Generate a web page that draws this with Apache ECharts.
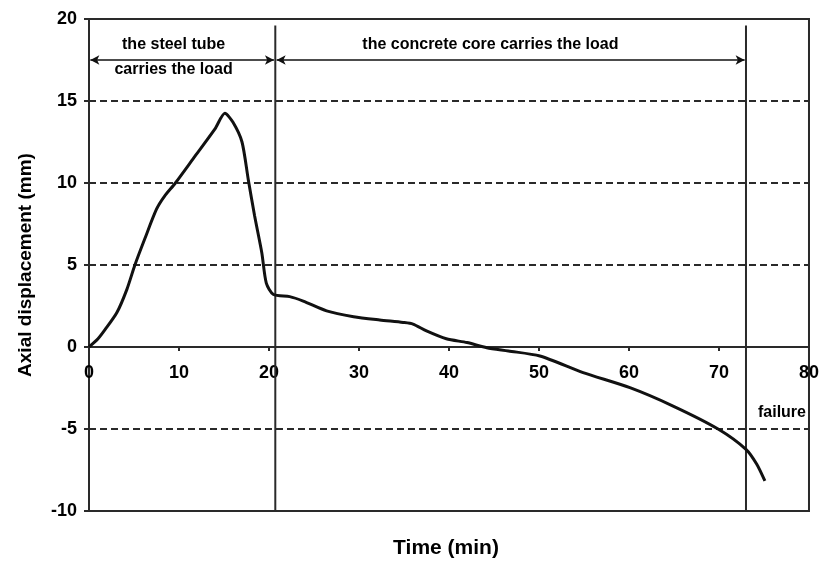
<!DOCTYPE html>
<html>
<head>
<meta charset="utf-8">
<script src="https://cdn.jsdelivr.net/npm/echarts@6/dist/echarts.min.js"></script>
<style>html,body{margin:0;padding:0;background:#fff}#c{width:822px;height:561px}</style>
</head>
<body>
<div id="c"></div>
<script>
// Data
const timeMin = [0, 1.0, 1.8, 3.1, 4.2, 5.1, 6.2, 7.5, 8.4, 9.6, 11.8, 14.0, 15.1, 16.0, 17.0, 17.7, 18.4, 19.2, 19.7, 20.5, 22.3, 23.8, 26.4, 29.4, 32.3, 34.9, 36.0, 37.5, 39.7, 42.0, 44.2, 46.6, 50.1, 54.9, 60.1, 64.9, 69.9, 73.0, 74.2, 75.1];
const displacement = [0, 0.5, 1.07, 2.1, 3.5, 5.0, 6.6, 8.4, 9.2, 10.0, 11.65, 13.3, 14.25, 13.7, 12.5, 10.2, 8.0, 5.75, 3.9, 3.2, 3.07, 2.8, 2.2, 1.85, 1.65, 1.5, 1.4, 0.98, 0.5, 0.27, -0.04, -0.24, -0.55, -1.56, -2.48, -3.6, -5.0, -6.24, -7.15, -8.17];
const phaseBoundaries = [20.7, 73];
const boundaryRange = [-10, 19.6];
const arrowLevel = 17.5;
const phaseLabels = ['the steel tube', 'carries the load', 'the concrete core carries the load', 'failure'];
const phaseLabelX = [9.4, 9.4, 44.6, 77.0];
const phaseLabelY = [18.45, 16.9, 18.45, -4.0];
const xTicks = {min: 0, max: 80, interval: 10};
const yTicks = {min: -10, max: 20, interval: 5};

const INK = '#000';
const LINE = '#2a2a2a';
const FONT = 'Liberation Sans, Arial, sans-serif';

const GRID = {left: 89, right: 13, top: 19, bottom: 50};
const H = 561 - GRID.top - GRID.bottom;
// place the x axis on y = 0
const xAxisOffset = -H * (0 - yTicks.min) / (yTicks.max - yTicks.min);

const chart = echarts.init(document.getElementById('c'));
const curve = timeMin.map((t, i) => [t, displacement[i]]);

const series = [
  {
    type: 'line',
    data: curve,
    smooth: 0.25,
    symbol: 'none',
    lineStyle: {color: '#111', width: 3},
    z: 5
  }
];
phaseBoundaries.forEach(b => {
  series.push({
    type: 'line',
    data: [[b, boundaryRange[0]], [b, boundaryRange[1]]],
    symbol: 'none',
    lineStyle: {color: LINE, width: 2},
    silent: true,
    z: 3
  });
});
const arrowStarts = [0, phaseBoundaries[0]];
const arrowEnds = [phaseBoundaries[0], phaseBoundaries[1]];
series.push({
  type: 'line',
  data: [],
  markLine: {
    silent: true,
    symbol: ['arrow', 'arrow'],
    symbolSize: [7, 9],
    label: {show: false},
    lineStyle: {color: '#111', width: 1.5, type: 'solid'},
    data: arrowStarts.map((s, i) => [{coord: [s + 0.15, arrowLevel]}, {coord: [arrowEnds[i] - 0.15, arrowLevel]}])
  }
});
series.push({
  type: 'scatter',
  symbolSize: 0,
  silent: true,
  itemStyle: {opacity: 1},
  data: phaseLabels.map((t, i) => ({value: [phaseLabelX[i], phaseLabelY[i]], name: t})),
  label: {
    show: true,
    position: 'inside',
    formatter: p => p.name,
    color: INK,
    opacity: 1,
    textBorderWidth: 0,
    fontFamily: FONT,
    fontWeight: 'bold',
    fontSize: 16
  }
});

chart.setOption({
  animation: false,
  backgroundColor: '#fff',
  title: {
    text: 'Time (min)',
    left: 446,
    top: 538,
    textAlign: 'center',
    padding: 0,
    textStyle: {fontFamily: FONT, fontWeight: 'bold', fontSize: 21, color: INK}
  },
  grid: Object.assign({
    show: true, borderColor: LINE, borderWidth: 2, backgroundColor: 'transparent'
  }, GRID),
  xAxis: {
    type: 'value',
    position: 'bottom',
    offset: xAxisOffset,
    min: xTicks.min, max: xTicks.max, interval: xTicks.interval,
    axisLine: {onZero: false, lineStyle: {color: LINE, width: 2}},
    axisTick: {show: true, inside: false, length: 4, lineStyle: {color: LINE, width: 2}},
    axisLabel: {margin: 17, color: INK, fontFamily: FONT, fontWeight: 'bold', fontSize: 18},
    splitLine: {show: false}
  },
  yAxis: {
    type: 'value',
    min: yTicks.min, max: yTicks.max, interval: yTicks.interval,
    name: 'Axial displacement (mm)',
    nameLocation: 'middle',
    nameGap: 54,
    nameTextStyle: {fontFamily: FONT, fontWeight: 'bold', fontSize: 19, color: INK},
    axisLine: {onZero: false, lineStyle: {color: LINE, width: 2}},
    axisTick: {show: true, inside: false, length: 5, lineStyle: {color: LINE, width: 2}},
    axisLabel: {margin: 12, color: INK, fontFamily: FONT, fontWeight: 'bold', fontSize: 18},
    splitLine: {show: true, lineStyle: {color: LINE, width: 2, type: [7, 4]}}
  },
  series: series
});
</script>
</body>
</html>
